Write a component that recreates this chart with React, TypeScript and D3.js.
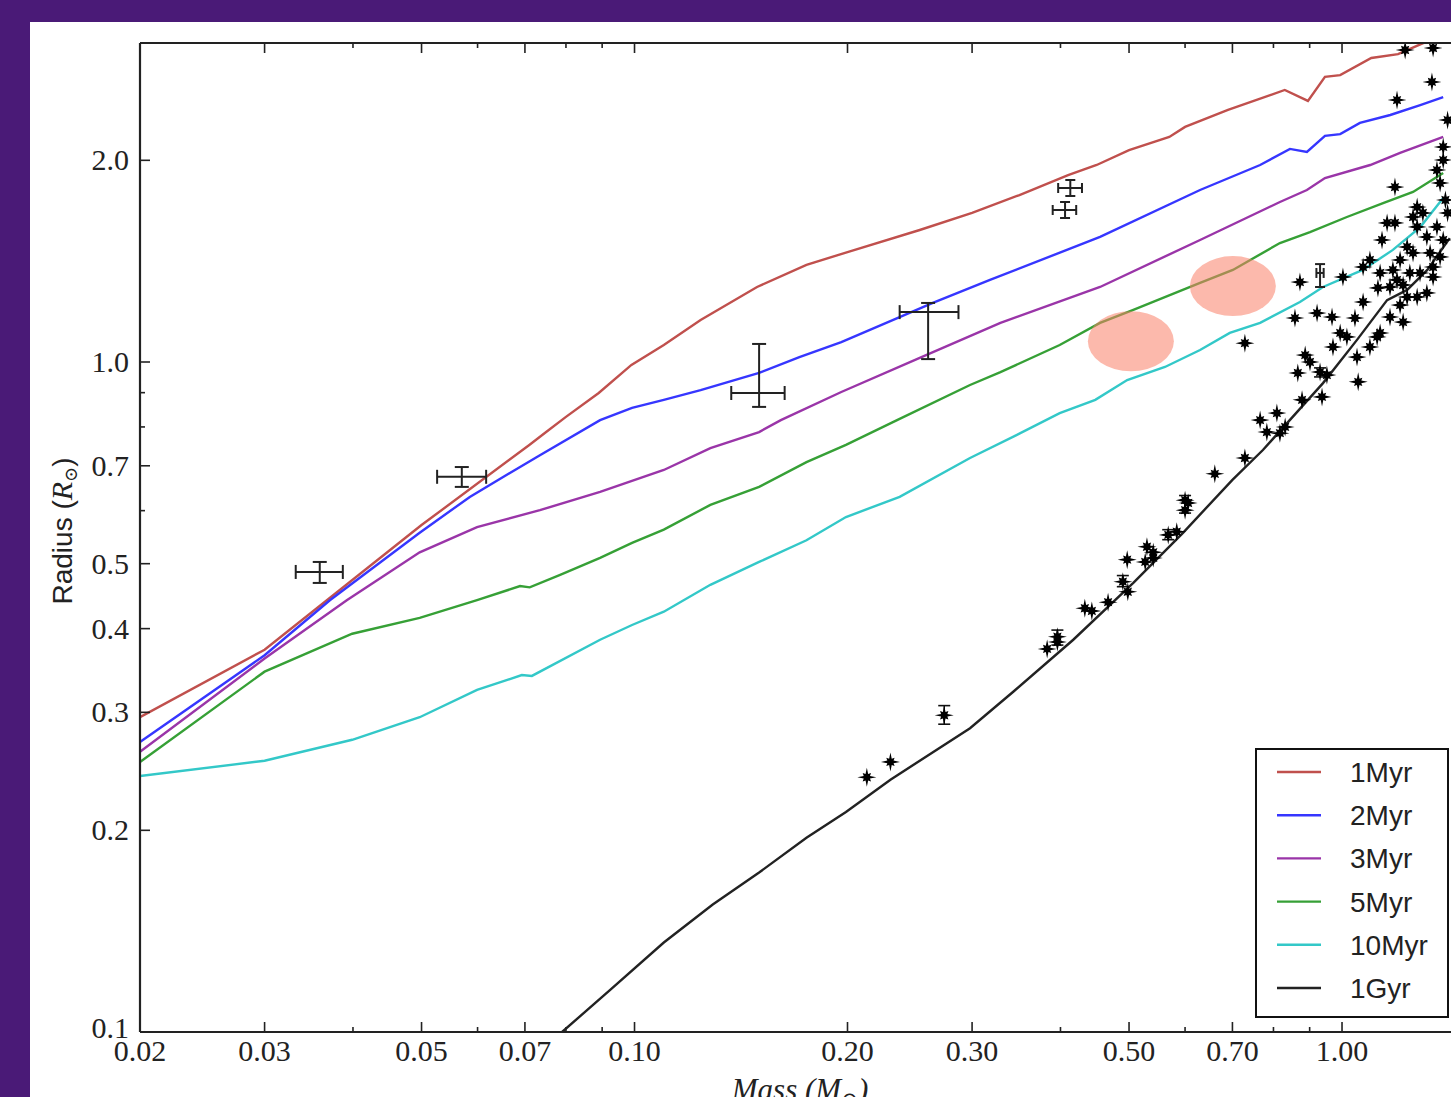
import React from "react";
import * as d3 from "d3";

// isochrones: [mass (Msun), radius (Rsun)]
const myr1: [number, number][] = [
  [0.02, 0.295], [0.03, 0.372], [0.05, 0.571], [0.071, 0.752], [0.075, 0.786],
  [0.08, 0.828], [0.089, 0.899], [0.099, 0.99], [0.11, 1.06], [0.124, 1.155],
  [0.149, 1.294], [0.175, 1.396], [0.2, 1.459], [0.253, 1.574], [0.3, 1.669],
  [0.35, 1.775], [0.41, 1.9], [0.45, 1.968], [0.5, 2.071], [0.57, 2.167],
  [0.6, 2.243], [0.69, 2.378], [0.83, 2.547], [0.895, 2.453], [0.946, 2.664],
  [0.994, 2.68], [1.1, 2.843], [1.2, 2.88], [1.3, 2.99], [1.45, 3.1],
];
const myr2: [number, number][] = [
  [0.02, 0.271], [0.03, 0.365], [0.0371, 0.441], [0.0497, 0.556], [0.0585, 0.629],
  [0.0735, 0.726], [0.0894, 0.819], [0.0992, 0.854], [0.11, 0.878], [0.124, 0.908],
  [0.15, 0.963], [0.171, 1.017], [0.196, 1.071], [0.237, 1.167], [0.264, 1.225],
  [0.318, 1.326], [0.455, 1.537], [0.63, 1.806], [0.766, 1.968], [0.844, 2.08],
  [0.892, 2.058], [0.946, 2.175], [0.994, 2.188], [1.06, 2.274], [1.17, 2.337],
  [1.29, 2.418], [1.39, 2.485],
];
const myr3: [number, number][] = [
  [0.02, 0.262], [0.03, 0.361], [0.0392, 0.441], [0.0497, 0.52], [0.0599, 0.567],
  [0.0735, 0.601], [0.0894, 0.64], [0.11, 0.69], [0.128, 0.744], [0.15, 0.786],
  [0.161, 0.819], [0.196, 0.902], [0.253, 1.014], [0.329, 1.144], [0.455, 1.294],
  [0.63, 1.521], [0.817, 1.733], [0.892, 1.806], [0.946, 1.882], [1.096, 1.968],
  [1.208, 2.051], [1.39, 2.167],
];
const myr5: [number, number][] = [
  [0.02, 0.253], [0.03, 0.345], [0.0399, 0.393], [0.0497, 0.415], [0.0599, 0.441],
  [0.0689, 0.463], [0.0711, 0.461], [0.0785, 0.481], [0.0894, 0.51], [0.0992, 0.537],
  [0.11, 0.562], [0.128, 0.612], [0.15, 0.651], [0.175, 0.709], [0.199, 0.752],
  [0.235, 0.819], [0.298, 0.924], [0.329, 0.966], [0.399, 1.06], [0.455, 1.144],
  [0.507, 1.196], [0.63, 1.312], [0.701, 1.372], [0.817, 1.505], [0.901, 1.563],
  [1.016, 1.646], [1.143, 1.727], [1.26, 1.794], [1.39, 1.915],
];
const myr10: [number, number][] = [
  [0.02, 0.241], [0.03, 0.254], [0.0399, 0.273], [0.0497, 0.295], [0.0599, 0.324],
  [0.0693, 0.341], [0.0716, 0.34], [0.0894, 0.385], [0.0992, 0.405], [0.11, 0.424],
  [0.128, 0.465], [0.15, 0.503], [0.175, 0.542], [0.199, 0.587], [0.237, 0.629],
  [0.298, 0.719], [0.351, 0.783], [0.399, 0.839], [0.448, 0.878], [0.497, 0.94],
  [0.562, 0.983], [0.63, 1.042], [0.694, 1.105], [0.766, 1.144], [0.872, 1.229],
  [0.94, 1.294], [1.07, 1.372], [1.18, 1.47], [1.29, 1.59], [1.39, 1.757],
];
const gyr1: [number, number][] = [
  [0.075, 0.095], [0.079, 0.1], [0.0923, 0.1155], [0.11, 0.136], [0.129, 0.155],
  [0.15, 0.173], [0.175, 0.195], [0.199, 0.213], [0.23, 0.238], [0.298, 0.284],
  [0.343, 0.322], [0.417, 0.385], [0.507, 0.468], [0.596, 0.556], [0.7, 0.667],
  [0.773, 0.739], [0.94, 0.93], [1.05, 1.079], [1.158, 1.237], [1.236, 1.281],
  [1.32, 1.372], [1.42, 1.531],
];

const trackLabels = ["1Myr", "2Myr", "3Myr", "5Myr", "10Myr", "1Gyr"];
const trackColors = ["#c0504d", "#3636ff", "#9a35a8", "#36a036", "#33c8c8", "#222222"];
const tracks = [myr1, myr2, myr3, myr5, myr10, gyr1];

// observed stars [mass, radius]
const stars: [number, number][] = [
  [0.213, 0.24], [0.23, 0.253], [0.274, 0.297], [0.383, 0.373], [0.396, 0.389],
  [0.396, 0.382], [0.433, 0.429], [0.443, 0.425], [0.467, 0.438], [0.49, 0.47],
  [0.498, 0.454], [0.497, 0.507], [0.527, 0.503], [0.53, 0.53], [0.541, 0.52],
  [0.541, 0.51], [0.568, 0.552], [0.584, 0.558], [0.6, 0.622], [0.6, 0.601],
  [0.606, 0.616], [0.661, 0.681], [0.729, 0.719], [0.729, 1.067], [0.766, 0.819],
  [0.783, 0.786], [0.817, 0.783], [0.831, 0.8], [0.809, 0.839], [0.878, 0.878],
  [0.937, 0.887], [0.866, 0.963], [0.931, 0.966], [0.952, 0.956], [0.887, 1.024],
  [0.901, 1.0], [1.054, 0.934], [0.971, 1.053], [0.994, 1.105], [1.016, 1.09],
  [1.095, 1.053], [1.121, 1.09], [1.132, 1.105], [1.05, 1.017], [0.858, 1.163],
  [0.922, 1.183], [0.968, 1.167], [1.043, 1.163], [1.071, 1.229], [1.169, 1.167],
  [1.208, 1.216], [1.22, 1.147], [0.872, 1.316], [1.003, 1.339], [1.095, 1.42],
  [1.071, 1.386], [1.132, 1.358], [1.124, 1.29], [1.169, 1.294], [1.196, 1.326],
  [1.22, 1.303], [1.18, 1.372], [1.247, 1.358], [1.289, 1.358], [1.236, 1.25],
  [1.277, 1.25], [1.318, 1.268], [1.345, 1.339], [1.345, 1.386], [1.208, 1.42],
  [1.236, 1.485], [1.26, 1.455], [1.332, 1.455], [1.376, 1.435], [1.139, 1.521],
  [1.318, 1.537], [1.39, 1.521], [1.362, 1.591], [1.158, 1.613], [1.188, 1.613],
  [1.277, 1.591], [1.26, 1.646], [1.301, 1.669], [1.277, 1.703], [1.41, 1.669],
  [1.4, 1.745], [1.188, 1.824], [1.376, 1.85], [1.362, 1.934], [1.39, 2.002],
  [1.39, 2.094], [1.41, 2.297], [1.196, 2.46], [1.34, 2.618], [1.228, 2.922],
  [1.345, 2.942],
];
// radius error bars on some stars: [mass, rLo, rHi]
const starErrs: [number, number, number][] = [
  [0.274, 0.288, 0.307], [0.396, 0.378, 0.398], [0.49, 0.462, 0.48],
  [0.568, 0.543, 0.562], [0.6, 0.595, 0.632], [0.931, 0.95, 0.98],
];

// objects with error bars: mass, radius, mass range, radius range
const errObjects = [
  { m: 0.0359, r: 0.486, mLo: 0.0332, mHi: 0.0387, rLo: 0.468, rHi: 0.503 },
  { m: 0.057, r: 0.674, mLo: 0.0526, mHi: 0.0617, rLo: 0.651, rHi: 0.697 },
  { m: 0.15, r: 0.899, mLo: 0.137, mHi: 0.163, rLo: 0.857, rHi: 1.064 },
  { m: 0.26, r: 1.187, mLo: 0.237, mHi: 0.287, rLo: 1.01, rHi: 1.225 },
  { m: 0.413, r: 1.819, mLo: 0.397, mHi: 0.429, rLo: 1.769, rHi: 1.869 },
  { m: 0.406, r: 1.686, mLo: 0.39, mHi: 0.421, rLo: 1.64, rHi: 1.733 },
  { m: 0.931, r: 1.358, mLo: 0.92, mHi: 0.942, rLo: 1.294, rHi: 1.4 },
];

// highlighted positions
const highlights: [number, number][] = [[0.503, 1.074], [0.701, 1.298]];

const xMajor = [0.02, 0.03, 0.05, 0.07, 0.1, 0.2, 0.3, 0.5, 0.7, 1.0];
const xMajorLabels = ["0.02", "0.03", "0.05", "0.07", "0.10", "0.20", "0.30", "0.50", "0.70", "1.00"];
const xMinor = [0.04, 0.06, 0.08, 0.09, 0.4, 0.6, 0.8, 0.9];
const yMajor = [0.1, 0.2, 0.3, 0.4, 0.5, 0.7, 1.0, 2.0];
const yMajorLabels = ["0.1", "0.2", "0.3", "0.4", "0.5", "0.7", "1.0", "2.0"];
const yMinor = [0.6, 0.8, 0.9];

const W = 1451;
const H = 1097;
const left = 140;
const top = 43;
const bottom = 1032;

const x = d3.scaleLog().domain([0.02, 1.5]).range([left, left + 707.5 * Math.log10(75)]);
const y = d3.scaleLog().domain([0.1, 3.0]).range([bottom, bottom - 670 * Math.log10(30)]);
const right = x(1.5);

const line = d3.line<[number, number]>().x((d) => x(d[0])).y((d) => y(d[1]));

// 8-armed sparkle marker, long arms on the axes
const starPath = (() => {
  const pts: string[] = [];
  const R = 9.5;
  for (let i = 0; i < 16; i++) {
    const a = (i * Math.PI) / 8 - Math.PI / 2;
    let len = 3.4;
    if (i % 2 === 0) len = (i / 2) % 2 === 0 ? R : R * 0.62;
    pts.push(`${(Math.cos(a) * len).toFixed(2)},${(Math.sin(a) * len).toFixed(2)}`);
  }
  return "M" + pts.join("L") + "Z";
})();

const serif = "'Liberation Serif', 'DejaVu Serif', serif";
const sans = "'Liberation Sans', Arial, sans-serif";

export default function App() {
  return (
    <svg width={W} height={H} style={{ position: "absolute", left: 0, top: 0 }}>
      <defs>
        <clipPath id="plot">
          <rect x={left} y={top} width={right - left} height={bottom - top} />
        </clipPath>
      </defs>
      <rect x={0} y={0} width={W} height={H} fill="#4a1a77" />
      <rect x={30} y={22} width={W - 30} height={H - 22} fill="#ffffff" />

      <g clipPath="url(#plot)">
        {tracks.map((t, i) => (
          <path key={i} d={line(t) ?? ""} fill="none" stroke={trackColors[i]} strokeWidth={2.4} />
        ))}
        {errObjects.map((e, i) => {
          const cx = x(e.m), cy = y(e.r);
          const x0 = x(e.mLo), x1 = x(e.mHi), y0 = y(e.rLo), y1 = y(e.rHi);
          const cap = i < 4 ? 7 : 5;
          return (
            <g key={i} stroke="#222" strokeWidth={2} fill="none">
              <line x1={x0} x2={x1} y1={cy} y2={cy} />
              <line x1={cx} x2={cx} y1={y0} y2={y1} />
              <line x1={x0} x2={x0} y1={cy - cap} y2={cy + cap} />
              <line x1={x1} x2={x1} y1={cy - cap} y2={cy + cap} />
              <line x1={cx - cap} x2={cx + cap} y1={y0} y2={y0} />
              <line x1={cx - cap} x2={cx + cap} y1={y1} y2={y1} />
            </g>
          );
        })}
        {starErrs.map((e, i) => (
          <g key={i} stroke="#111" strokeWidth={1.6}>
            <line x1={x(e[0])} x2={x(e[0])} y1={y(e[1])} y2={y(e[2])} />
            <line x1={x(e[0]) - 6} x2={x(e[0]) + 6} y1={y(e[1])} y2={y(e[1])} />
            <line x1={x(e[0]) - 6} x2={x(e[0]) + 6} y1={y(e[2])} y2={y(e[2])} />
          </g>
        ))}
        {stars.map((s, i) => (
          <path key={i} d={starPath} transform={`translate(${x(s[0])},${y(s[1])})`} fill="#000" />
        ))}
        {highlights.map((h, i) => (
          <ellipse key={i} cx={x(h[0])} cy={y(h[1])} rx={43} ry={30} fill="#fa8068" fillOpacity={0.55} />
        ))}
      </g>

      {/* frame */}
      <g stroke="#222" strokeWidth={2.2} fill="none">
        <line x1={left} x2={left} y1={top} y2={bottom} />
        <line x1={left} x2={right} y1={bottom} y2={bottom} />
        <line x1={left} x2={right} y1={top} y2={top} />
      </g>

      {/* ticks */}
      <g stroke="#222" strokeWidth={1.6}>
        {xMajor.map((v) => (
          <g key={"xM" + v}>
            <line x1={x(v)} x2={x(v)} y1={bottom} y2={bottom - 10} />
            <line x1={x(v)} x2={x(v)} y1={top} y2={top + 10} />
          </g>
        ))}
        {xMinor.map((v) => (
          <g key={"xm" + v}>
            <line x1={x(v)} x2={x(v)} y1={bottom} y2={bottom - 5} />
            <line x1={x(v)} x2={x(v)} y1={top} y2={top + 5} />
          </g>
        ))}
        {yMajor.map((v) => (
          <line key={"yM" + v} x1={left} x2={left + 10} y1={y(v)} y2={y(v)} />
        ))}
        {yMinor.map((v) => (
          <line key={"ym" + v} x1={left} x2={left + 5} y1={y(v)} y2={y(v)} />
        ))}
      </g>

      <g fontFamily={serif} fontSize={30} fill="#222">
        {xMajor.map((v, i) => (
          <text key={"xl" + v} x={x(v)} y={bottom + 29} textAnchor="middle">
            {xMajorLabels[i]}
          </text>
        ))}
        {yMajor.map((v, i) => (
          <text key={"yl" + v} x={left - 11} y={y(v) + (v === 0.1 ? 6 : 10)} textAnchor="end">
            {yMajorLabels[i]}
          </text>
        ))}
      </g>

      {/* axis titles */}
      <text x={800} y={1100} textAnchor="middle" fontFamily={serif} fontStyle="italic" fontSize={31} fill="#222">
        Mass (M<tspan fontSize={20} dy={6}>⊙</tspan><tspan dy={-6}>)</tspan>
      </text>
      <text transform="translate(72,531) rotate(-90)" textAnchor="middle" fontSize={28} fill="#222" fontFamily={sans}>
        Radius (<tspan fontFamily={serif} fontStyle="italic" fontSize={30}>R</tspan>
        <tspan fontFamily={serif} fontSize={18} dy={5}>⊙</tspan>
        <tspan dy={-5}>)</tspan>
      </text>

      {/* legend */}
      <rect x={1256} y={749} width={192} height={268} fill="#fff" stroke="#111" strokeWidth={2} />
      {trackLabels.map((l, i) => {
        const ly = 772 + i * 43.2;
        return (
          <g key={l}>
            <line x1={1277} x2={1321} y1={ly} y2={ly} stroke={trackColors[i]} strokeWidth={2.4} />
            <text x={1350} y={ly + 10} fontFamily={sans} fontSize={28} fill="#222">
              {l}
            </text>
          </g>
        );
      })}
    </svg>
  );
}
